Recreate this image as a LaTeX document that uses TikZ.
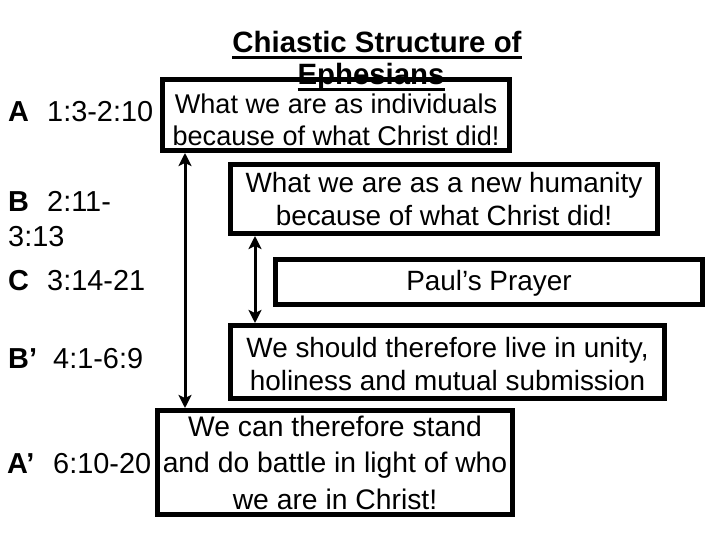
\documentclass[tikz,border=0pt]{standalone}
\usepackage{fontspec}
\setmainfont{Liberation Sans}
\usetikzlibrary{arrows.meta}
\newcommand\ttlline[1]{\setbox0\hbox{#1}\rlap{\vrule height -3bp depth 6bp width \wd0}\box0}
\tikzset{
  frame/.style={draw,line width=5bp,inner sep=0pt},
  verse/.style={anchor=north,inner sep=0pt,align=center,font=\fontsize{28}{33}\selectfont},
  ref/.style={anchor=base west,inner sep=0pt,font=\fontsize{29}{35}\selectfont},
  ttl/.style={anchor=base,inner sep=0pt,font=\fontsize{29.5}{33}\selectfont\bfseries},
  span/.style={line width=3bp,{Stealth[length=13bp,width=13bp,inset=3bp]}-{Stealth[length=13bp,width=13bp,inset=3bp]}}
}
\begin{document}
\begin{tikzpicture}[x=1bp,y=-1bp]
\useasboundingbox (0,0) rectangle (720,540);
\node[frame,minimum width=347bp,minimum height=71bp] (vA) at (336,115) {};
\node[frame,minimum width=427bp,minimum height=69bp] (vB) at (444,199) {};
\node[frame,minimum width=427bp,minimum height=45bp] (vC) at (489,282) {};
\node[frame,minimum width=434bp,minimum height=73bp] (vBp) at (447.5,362) {};
\node[frame,minimum width=355bp,minimum height=104bp] (vAp) at (335,462.5) {};
\node[verse,font=\fontsize{27.2}{32}\selectfont] (tA) at (336,93.5) {What we are as individuals\\because of what Christ did!};
\node[verse] (tB) at (444,172) {What we are as a new humanity\\because of what Christ did!};
\node[verse] (tC) at (489,270) {Paul’s Prayer};
\node[verse] (tBp) at (447.5,337) {We should therefore live in unity,\\holiness and mutual submission};
\node[verse,font=\fontsize{28.4}{36.5}\selectfont] (tAp) at (335,415.7) {We can therefore stand\\and do battle in light of who\\we are in Christ!};
\coordinate (xL) at (185,0);\coordinate (xS) at (255,0);
\draw[span] (vA.south -| xL) -- (vAp.north -| xL);
\draw[span] (vB.south -| xS) -- (vBp.north -| xS);
\node[ref] (lA) at (8,122) {\makebox[39bp][l]{\bfseries A}1:3-2:10};
\node[ref] (lB) at (8,212) {\makebox[39bp][l]{\bfseries B}2:11-};
\node[ref] (lBb) at (8,247) {3:13};
\node[ref] (lC) at (8,290) {\makebox[39bp][l]{\bfseries C}3:14-21};
\node[ref] (lBp) at (8,368) {\makebox[45bp][l]{\bfseries B’}4:1-6:9};
\node[ref] (lAp) at (7,473) {\makebox[46bp][l]{\bfseries A’}6:10-20};
\node[ttl] (ttlA) at (377,53) {\ttlline{Chiastic Structure of}};
\node[ttl] (ttlB) at (371,85) {\ttlline{Ephesians}};
\end{tikzpicture}
\end{document}
